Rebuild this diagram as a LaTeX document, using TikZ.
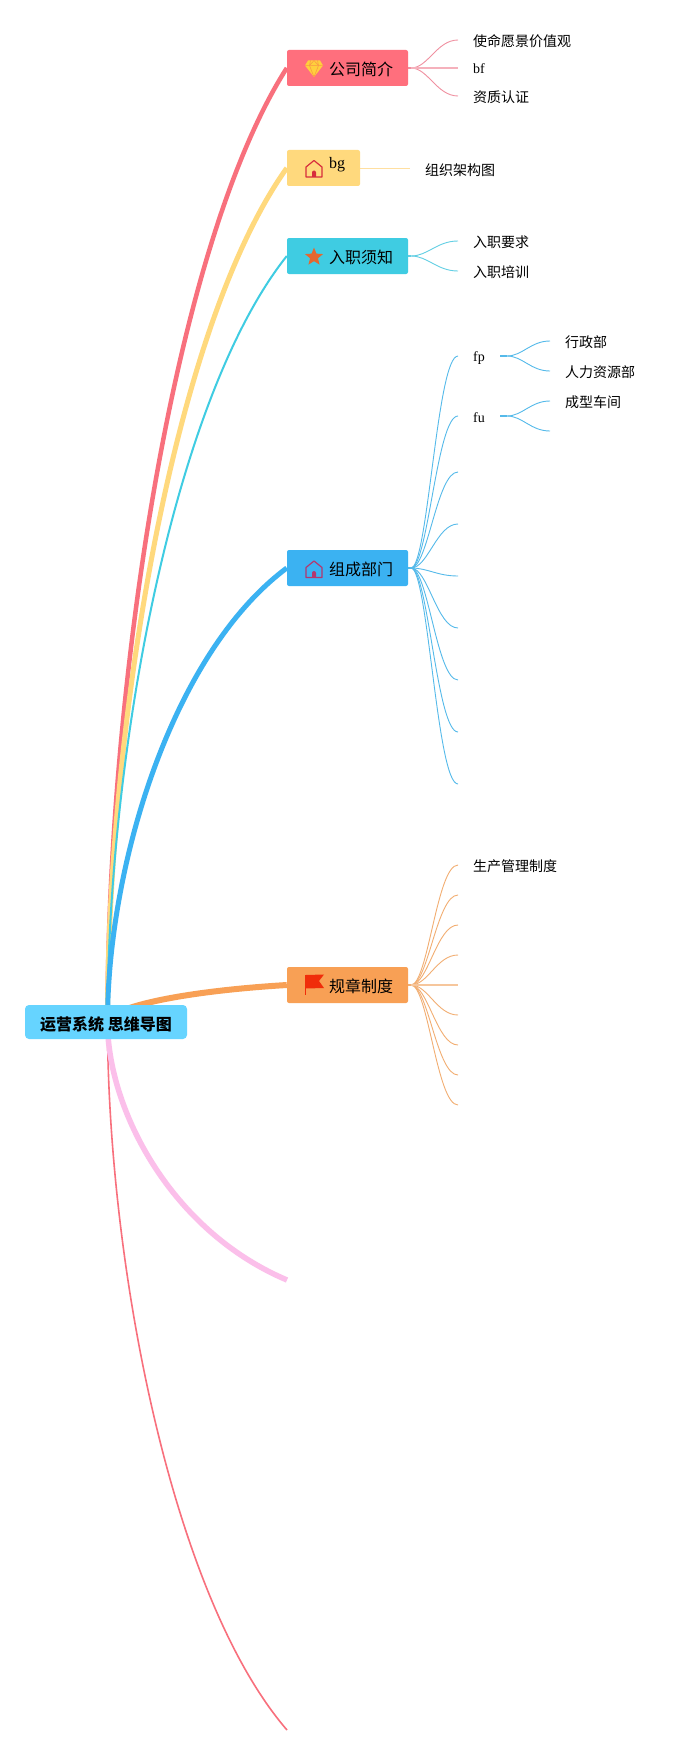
\documentclass[tikz,border=0pt]{standalone}
\usepackage{fontspec}
\setmainfont{Liberation Serif}
\newfontfamily\cjk{Noto Sans CJK SC}
\usetikzlibrary{calc,backgrounds,shapes.geometric}
\definecolor{cRoot}{HTML}{66D4FF}
\definecolor{cRed}{HTML}{F8707D}
\definecolor{cBox}{HTML}{FF6F7D}
\definecolor{cYel}{HTML}{FFD97D}
\definecolor{cTeal}{HTML}{3FCCE2}
\definecolor{cBlue}{HTML}{3BB2F2}
\definecolor{cOra}{HTML}{F8A055}
\definecolor{cPink}{HTML}{FBBFEA}
\definecolor{lRed}{HTML}{F090A0}
\definecolor{lYel}{HTML}{FFDFA0}
\definecolor{lTeal}{HTML}{62CFE4}
\definecolor{lBlue}{HTML}{55BAEA}
\definecolor{lOra}{HTML}{F2AE72}
\tikzset{
  topicbox/.style={rounded corners=2pt,inner xsep=0pt,inner ysep=0pt,minimum height=36pt,text width=#1,align=left,font=\fontsize{16}{20}\selectfont},
  rootbox/.style={rounded corners=4pt,fill=cRoot,inner sep=0pt,minimum width=162pt,minimum height=34pt,font=\cjk\bfseries\fontsize{16}{20}\selectfont},
  leaf/.style={anchor=west,inner sep=0pt,font=\cjk\fontsize{14}{18}\selectfont},
  leaflatin/.style={anchor=west,inner sep=0pt,font=\fontsize{14}{18}\selectfont},
  mainedge/.style={line cap=butt},
  subedge/.style={line width=.9pt},
  stubedge/.style={line width=1.8pt},
}
% text whose baseline lies #1 below the centre of its box
\newcommand{\drop}[2]{\raisebox{-#1}[8pt][8pt]{#2}}
% main branch from the root to a target: colour, width, target
\newcommand{\mainlink}[3]{%
  \path ($(rootstart)!.339!(#3)$) coordinate (qa) ($(rootstart)!.354!(#3)$) coordinate (qb) ($(rootstart)!.81!(#3)$) coordinate (qc);
  \draw[mainedge,draw=#1,line width=#2] (rootstart) .. controls (rootstart |- qa) and (qb |- qc) .. (#3);}
% sub branch: colour, start, end
\newcommand{\sublink}[3]{%
  \path ($(#2)!.36!(#3)$) coordinate (qa) ($(#2)!.55!(#3)$) coordinate (qb);
  \draw[subedge,draw=#1] (#2) .. controls (qa |- #2) and (qb |- #3) .. (#3);}
\newcommand{\housemark}[3]{% x, y of centre, colour
  \draw[#3,line width=1.2pt,line join=round] (#1-8,#2+8.5) -- (#1-8,#2-1.5) -- (#1,#2-8) -- (#1+8,#2-1.5) -- (#1+8,#2+8.5) -- cycle;
  \fill[#3] (#1-2,#2+8.5) -- (#1-2,#2+4) arc[start angle=180,end angle=0,radius=2pt] -- (#1+2,#2+8.5) -- cycle;}
\begin{document}
\begin{tikzpicture}[x=1pt,y=-1pt]
\useasboundingbox (0,0) rectangle (695,1755);
% nodes
\node[rootbox] (root) at (106,1022) {\drop{8pt}{运营系统 思维导图}};
\coordinate (rootstart) at (107.5,1022);
\node[topicbox=121pt,fill=cBox]  (n1) at (347.5,68)  {\hspace*{42pt}\drop{7.5pt}{\cjk 公司简介}};
\node[topicbox=73pt, fill=cYel]  (n2) at (323.5,168) {\hspace*{42pt}\drop{0.6pt}{bg}};
\node[topicbox=121pt,fill=cTeal] (n3) at (347.5,256) {\hspace*{42pt}\drop{7.5pt}{\cjk 入职须知}};
\node[topicbox=121pt,fill=cBlue] (n4) at (347.5,568) {\hspace*{42pt}\drop{7.5pt}{\cjk 组成部门}};
\node[topicbox=121pt,fill=cOra]  (n5) at (347.5,985) {\hspace*{42pt}\drop{7.5pt}{\cjk 规章制度}};
\coordinate (n6) at (287,1280);
\coordinate (n7) at (287,1730);
% leaf labels
\node[leaf] (a1) at (473,41) {使命愿景价值观};
\node[leaflatin] (a2) at (473,69) {bf};
\node[leaf] (a3) at (473,97) {资质认证};
\node[leaf] (b1) at (425,170) {组织架构图};
\node[leaf] (c1) at (473,242) {入职要求};
\node[leaf] (c2) at (473,272) {入职培训};
\node[leaflatin] (fp) at (473,358) {fp};
\node[leaflatin] (fu) at (473,418) {fu};
\node[leaf] (f1) at (565,342) {行政部};
\node[leaf] (f2) at (565,372) {人力资源部};
\node[leaf] (f3) at (565,402) {成型车间};
\node[leaf] (e1) at (473,866) {生产管理制度};
% free ends
\coordinate (o1) at (411,68);
\coordinate (o3) at (411,256);
\coordinate (o4) at (411,568);
\coordinate (o5) at (411,985);
\coordinate (sfp) at (500,356);
\coordinate (sfu) at (500,416);
\coordinate (ofp) at (507,356);
\coordinate (ofu) at (507,416);
\foreach \n/\x/\y in {e1a/458/40,e1b/458/68,e1c/458/96,e3a/458/241,e3b/458/271,
  e4a/458/356,e4b/458/416,e4c/458/472,e4d/458/524,e4e/458/576,e4f/458/628,e4g/458/680,e4h/458/732,e4i/458/784,
  g1/550/341,g2/550/371,g3/550/401,g4/550/431,
  e5a/458/865,e5b/458/895,e5c/458/925,e5d/458/955,e5e/458/985,e5f/458/1015,e5g/458/1045,e5h/458/1075,e5i/458/1105,
  e2/410/168}
  {\coordinate (\n) at (\x,\y);}
\begin{scope}[on background layer]
\fill[white] (0,0) rectangle (695,1755);
\mainlink{cRed}{4.5pt}{n1.west}
\mainlink{cYel}{5pt}{n2.west}
\mainlink{cTeal}{2pt}{n3.west}
\mainlink{cBlue}{5pt}{n4.west}
\mainlink{cOra}{6pt}{n5.west}
\mainlink{cRed}{1.6pt}{n7}
\mainlink{cPink}{5.5pt}{n6}
\draw[stubedge,lRed] (n1.east) -- (o1);
\foreach \e in {e1a,e1c} {\sublink{lRed}{o1}{\e}}
\draw[line width=1.6pt,lRed!70] (o1) -- (e1b);
\draw[line width=.9pt,lYel] (n2.east) -- (e2);
\draw[stubedge,lTeal] (n3.east) -- (o3);
\foreach \e in {e3a,e3b} {\sublink{lTeal}{o3}{\e}}
\draw[stubedge,lBlue] (n4.east) -- (o4);
\foreach \e in {e4a,e4b,e4c,e4d,e4e,e4f,e4g,e4h,e4i} {\sublink{lBlue}{o4}{\e}}
\draw[stubedge,lBlue] (sfp) -- (ofp);
\draw[stubedge,lBlue] (sfu) -- (ofu);
\foreach \e in {g1,g2} {\sublink{lBlue}{ofp}{\e}}
\foreach \e in {g3,g4} {\sublink{lBlue}{ofu}{\e}}
\draw[stubedge,lOra] (n5.east) -- (o5);
\foreach \e in {e5a,e5b,e5c,e5d,e5f,e5g,e5h,e5i} {\sublink{lOra}{o5}{\e}}
\draw[line width=1.6pt,lOra!70] (o5) -- (e5e);
\end{scope}
% icons
\fill[color={rgb,255:red,255;green,208;blue,60}] (308,60.5) -- (320,60.5) -- (323,65.5) -- (314,77) -- (305,65.5) -- cycle;
\draw[color={rgb,255:red,250;green,150;blue,70},line width=.5pt] (305,65.5) -- (323,65.5) (310.5,60.5) -- (309.5,65.5) -- (314,77) -- (318.5,65.5) -- (317.5,60.5) (314,60.5) -- (309.5,65.5) (314,60.5) -- (318.5,65.5);
\housemark{314}{168.5}{color={rgb,255:red,215;green,45;blue,60}}
\node[star,star points=5,star point ratio=2.3,fill={rgb,255:red,228;green,104;blue,48},inner sep=0pt,minimum size=19pt] (starmark) at (314,257) {};
\housemark{314}{569}{color={rgb,255:red,180;green,55;blue,110}}
\draw[color={rgb,255:red,240;green,45;blue,10},line width=1pt] (305.5,975) -- (305.5,995);
\fill[color={rgb,255:red,240;green,45;blue,10}] (305.5,975) -- (324,974.5) -- (319,981) -- (324,988) -- (305.5,988.5) -- cycle;
\end{tikzpicture}
\end{document}
